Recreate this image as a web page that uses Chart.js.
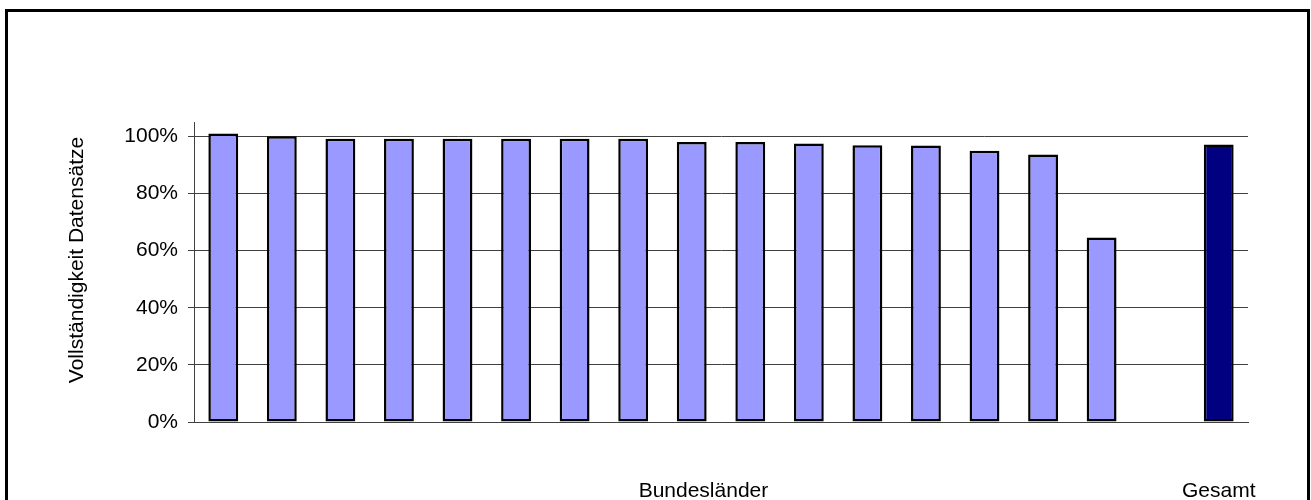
<!DOCTYPE html>
<html>
<head>
<meta charset="utf-8">
<script src="https://cdn.jsdelivr.net/npm/chart.js@4/dist/chart.umd.min.js"></script>
<style>
  html, body { margin: 0; padding: 0; background: #fff; }
  #wrap { width: 1311px; height: 500px; }
</style>
</head>
<body>
<div id="wrap"><canvas id="chart" width="1311" height="500"></canvas></div>
<script>
// categories: 16 Bundeslaender, one empty slot, then Gesamt
const categories = ['1', '2', '3', '4', '5', '6', '7', '8', '9', '10', '11', '12', '13', '14', '15', '16', '', 'Gesamt'];
const completeness = [101.0, 100.0, 99.1, 99.1, 99.1, 99.1, 99.1, 99.1, 98.0, 98.0, 97.5, 96.9, 96.8, 94.9, 93.6, 64.6, null, 97.1];
const yTicks = [0, 20, 40, 60, 80, 100];
const groupLabels = ['Bundesländer', 'Gesamt'];
const groupPositions = [8.2, 17];
const yTitle = 'Vollständigkeit Datensätze';

const FONT = '"Liberation Sans", Arial, sans-serif';
const barColors = categories.map((c) => (c === 'Gesamt' ? '#000080' : '#9999FF'));

const textPlugin = {
  id: 'texts',
  afterDraw: (chart) => {
    const ctx = chart.ctx;
    const x = chart.scales.x;
    const y = chart.scales.y;
    ctx.save();
    ctx.fillStyle = '#000';
    ctx.font = '21px ' + FONT;
    ctx.textAlign = 'center';
    ctx.textBaseline = 'alphabetic';
    groupLabels.forEach((label, i) => {
      ctx.fillText(label, x.getPixelForValue(groupPositions[i]), 497);
    });
    // y axis title
    ctx.translate(83, (y.top + y.bottom) / 2 - 12);
    ctx.rotate(-Math.PI / 2);
    ctx.fillText(yTitle, 0, 0);
    ctx.restore();

    // outer frame
    ctx.save();
    ctx.strokeStyle = '#000';
    ctx.lineWidth = 3;
    ctx.strokeRect(6.5, 10.5, 1302, 520);
    ctx.restore();
  }
};

new Chart(document.getElementById('chart').getContext('2d'), {
  type: 'bar',
  data: {
    labels: categories,
    datasets: [{
      data: completeness,
      backgroundColor: barColors,
      borderColor: '#000',
      borderWidth: 2.5,
      borderSkipped: false,
      categoryPercentage: 1,
      barPercentage: 0.51,
    }]
  },
  options: {
    responsive: false,
    animation: false,
    layout: { padding: { top: 122, right: 63, left: 0, bottom: 0 } },
    plugins: { legend: { display: false }, tooltip: { enabled: false } },
    scales: {
      x: {
        grid: { display: false },
        border: { display: true, color: '#404040', width: 1 },
        ticks: { display: false },
        afterFit: (scale) => { scale.height = 78; }
      },
      y: {
        min: 0,
        max: 105,
        afterBuildTicks: (scale) => { scale.ticks = yTicks.map((v) => ({ value: v })); },
        afterFit: (scale) => { scale.width = 194; },
        grid: { color: '#404040', lineWidth: 1, tickLength: 6, drawTicks: true },
        border: { display: true, color: '#404040', width: 1 },
        ticks: {
          padding: 10,
          color: '#000',
          font: { family: FONT, size: 21 },
          callback: (v) => v + '%'
        }
      }
    }
  },
  plugins: [textPlugin]
});
</script>
</body>
</html>
